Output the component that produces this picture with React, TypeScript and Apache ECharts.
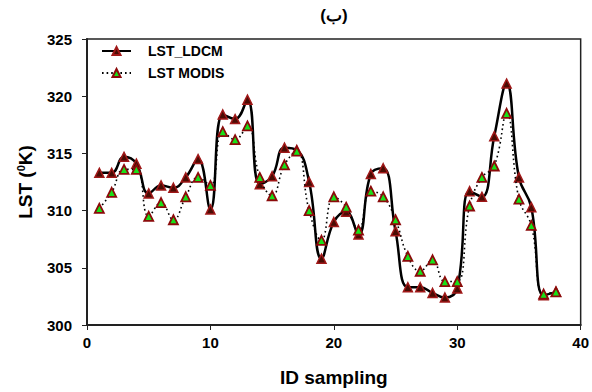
import React, { useEffect, useRef } from "react";
import * as echarts from "echarts";

const ids = [1,2,3,4,5,6,7,8,9,10,11,12,13,14,15,16,17,18,19,20,21,22,23,24,25,26,27,28,29,30,31,32,33,34,35,36,37,38];
const lstLdcm = [313.3,313.3,314.7,314.1,311.5,312.2,312.0,312.9,314.5,310.1,318.4,318.0,319.7,312.3,313.0,315.5,315.3,312.5,305.8,309.0,309.9,307.9,313.2,313.7,308.2,303.3,303.3,302.8,302.4,303.2,311.7,311.2,316.5,321.1,312.9,310.3,302.6,302.9];
const lstModis = [310.2,311.6,313.6,313.6,309.5,310.7,309.2,311.2,312.9,312.2,316.9,316.2,317.4,312.9,311.3,314.0,315.2,310.0,307.4,311.2,310.3,308.3,311.7,311.2,309.2,306.0,304.7,305.7,303.8,303.8,310.4,312.9,313.9,318.5,311.0,308.7,302.7,302.9];
const seriesNames = ["LST_LDCM", "LST MODIS"];
const titleText = "(ب)";
const xName = "ID sampling";

const FONT = "'Liberation Sans', Arial, sans-serif";

export default function App() {
  const ref = useRef<HTMLDivElement>(null);
  useEffect(() => {
    if (!ref.current) return;
    const chart = echarts.init(ref.current, null, { renderer: "svg" });
    const ldcmData = ids.map((x, i) => [x, lstLdcm[i]]);
    const modisData = ids.map((x, i) => [x, lstModis[i]]);
    chart.setOption({
      animation: false,
      backgroundColor: "#ffffff",
      textStyle: { fontFamily: FONT },
      grid: {
        left: 87, right: 10, top: 39, bottom: 66,
        show: true, borderColor: "#222", borderWidth: 1.5,
      },
      graphic: [
        {
          type: "text", x: 334, y: 15,
          style: {
            text: titleText, fontFamily: FONT, fontWeight: "bold", fontSize: 17,
            fill: "#000", align: "center", verticalAlign: "middle",
          },
        },
      ],
      legend: {
        orient: "vertical", left: 101, top: 44, itemWidth: 29, itemHeight: 10,
        itemGap: 8, padding: 0,
        textStyle: { fontFamily: FONT, fontWeight: "bold", fontSize: 14, color: "#000", padding: [0, 0, 0, 12] },
        data: seriesNames,
      },
      xAxis: {
        type: "value", min: 0, max: 40, interval: 10,
        name: xName, nameLocation: "middle", nameGap: 43,
        nameTextStyle: { fontFamily: FONT, fontWeight: "bold", fontSize: 19, color: "#000" },
        axisLine: { show: true, lineStyle: { color: "#222", width: 2 } },
        axisTick: { show: true, inside: false, length: 5, lineStyle: { color: "#222", width: 1 } },
        axisLabel: { fontFamily: FONT, fontWeight: "bold", fontSize: 15, color: "#000", margin: 10 },
        splitLine: { show: false },
      },
      yAxis: {
        type: "value", min: 300, max: 325, interval: 5,
        name: "{b|LST (}{s|0}{b|K)}", nameLocation: "middle", nameGap: 52,
        nameTextStyle: {
          fontFamily: FONT, fontWeight: "bold", fontSize: 19, color: "#000",
          rich: {
            b: { fontFamily: FONT, fontWeight: "bold", fontSize: 19, color: "#000" },
            s: { fontFamily: FONT, fontWeight: "bold", fontSize: 11, color: "#000", verticalAlign: "top", padding: [0, 0, 9, 0] },
          },
        },
        axisLine: { show: true, lineStyle: { color: "#222", width: 2 } },
        axisTick: { show: true, inside: false, length: 5, lineStyle: { color: "#222", width: 1 } },
        axisLabel: { fontFamily: FONT, fontWeight: "bold", fontSize: 15, color: "#000", margin: 15 },
        splitLine: { show: false },
      },
      series: [
        {
          name: seriesNames[0], type: "line", data: ldcmData, smooth: 0.45,
          symbol: "triangle", symbolSize: 9,
          lineStyle: { color: "#000", width: 2.5, type: "solid" },
          itemStyle: { color: "#4a0c04", borderColor: "#a01818", borderWidth: 1.5 },
          z: 3,
        },
        {
          name: seriesNames[1], type: "line", data: modisData, smooth: 0.45,
          symbol: "triangle", symbolSize: 9,
          lineStyle: { color: "#000", width: 1.6, type: [1.6, 3] },
          itemStyle: { color: "#18e018", borderColor: "#8b0a0a", borderWidth: 1.8 },
          z: 4,
        },
      ],
    });
    return () => chart.dispose();
  }, []);
  return <div ref={ref} style={{ position: "absolute", left: 0, top: 0, width: 592, height: 392 }} />;
}
